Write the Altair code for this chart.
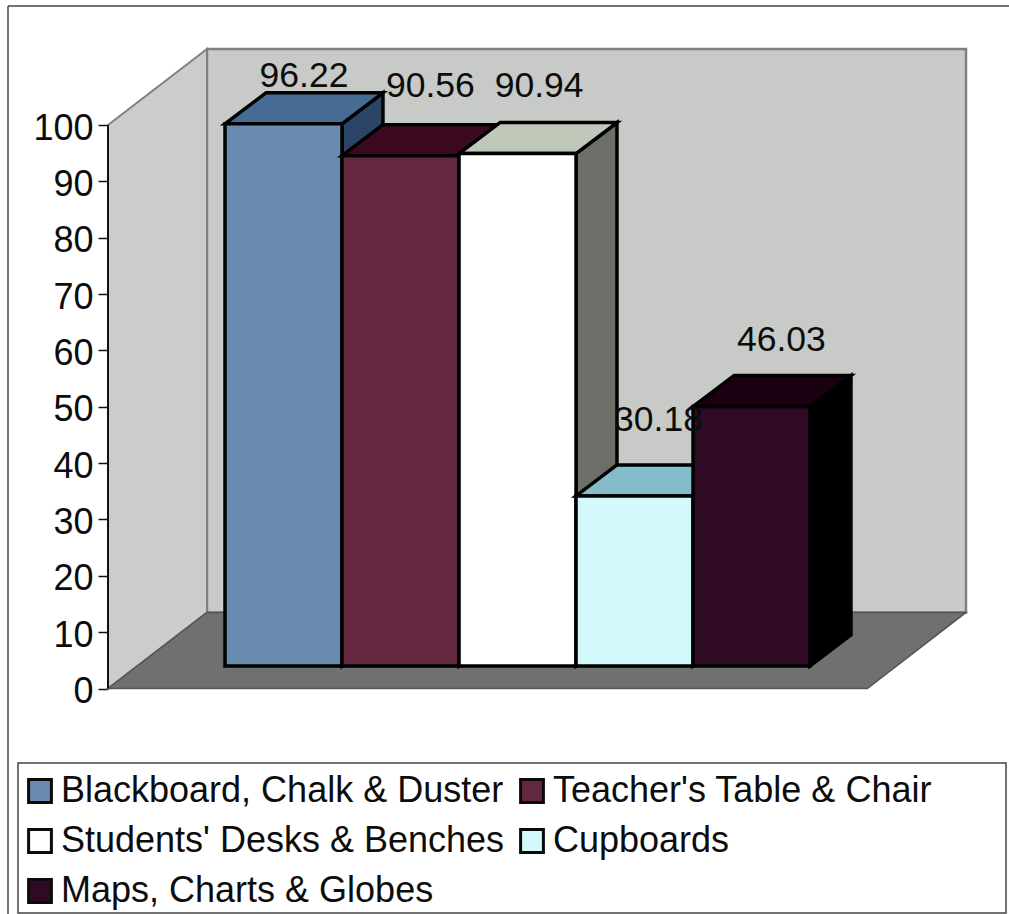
import altair as alt
import pandas as pd

# Furniture and teaching-aid availability, per cent of schools
categories = [
    "Blackboard, Chalk & Duster",
    "Teacher's Table & Chair",
    "Students' Desks & Benches",
    "Cupboards",
    "Maps, Charts & Globes",
]
values = [96.22, 90.56, 90.94, 30.18, 46.03]
tick_values = list(range(0, 101, 10))

front_colors = ["#6a8bb0", "#642840", "#ffffff", "#d2fafc", "#2e0a24"]
top_colors = ["#466b94", "#3c0a20", "#c0c8ba", "#84bccb", "#1a0010"]
side_colors = ["#2c4465", "#2c0818", "#6c6e68", "#5e8088", "#000000"]

# Oblique projection, in axis units: one x unit is one bar width
X_MAX = 7.333
Y_MAX = 113.5
WALL_DX = 0.846
WALL_DY = 13.5
FLOOR_W = 6.49
BAR_DX = 0.35
BAR_DY = 5.5
BAR_BASE = 4.0
BAR_START = 1.0

# Label displacement from the back edge of each bar's top (x units, y units)
label_nudge = [(0, 1.0), (0.08, 4.9), (0.01, 4.6), (0.03, 6.0), (0.08, 4.3)]

x_scale = alt.Scale(domain=[0, X_MAX], nice=False, zero=False)
y_scale = alt.Scale(domain=[0, Y_MAX], nice=False, zero=False)
y_axis = alt.Axis(
    values=tick_values, title=None, domain=False, grid=False,
    tickColor="#111111", tickSize=10, tickWidth=1.5, labelPadding=5, labelOffset=3,
    labelFont="Liberation Sans", labelFontSize=36, labelColor="#0c0c0c",
)


def X(field, **kw):
    return alt.X(field, type="quantitative", scale=x_scale, axis=None, **kw)


def Y(field, **kw):
    return alt.Y(field, type="quantitative", scale=y_scale, axis=y_axis, **kw)


def vertical_face(x0, x1, low0, high0, low1, high1, fill, stroke, width):
    # Parallelogram with upright ends
    df = pd.DataFrame({"x": [x0, x1], "lo": [low0, low1], "hi": [high0, high1]})
    return alt.Chart(df).mark_area(
        fill=fill, stroke=stroke, strokeWidth=width, strokeJoin="miter", opacity=1
    ).encode(x=X("x"), y=Y("hi"), y2=alt.Y2("lo"))


def level_face(y0, y1, left0, right0, left1, right1, fill, stroke, width):
    # Parallelogram with level ends
    df = pd.DataFrame({"y": [y0, y1], "l": [left0, left1], "r": [right0, right1]})
    return alt.Chart(df).mark_area(
        orient="horizontal", fill=fill, stroke=stroke, strokeWidth=width,
        strokeJoin="miter", opacity=1,
    ).encode(y=Y("y"), x=X("l"), x2=alt.X2("r"))


GRID = "#808080"
BAR_LINE = 3.5
layers = []

# Legend box sits underneath the legend itself
layers.append(
    alt.Chart(pd.DataFrame({"k": [0]})).mark_rect(
        fill="white", stroke="#444444", strokeWidth=1.5
    ).encode(x=alt.value(-90), x2=alt.value(898), y=alt.value(714), y2=alt.value(864))
)

# Back wall, side wall and floor
layers.append(vertical_face(WALL_DX, X_MAX, WALL_DY, Y_MAX, WALL_DY, Y_MAX, "#c8cac7", GRID, 2.5))
layers.append(vertical_face(0, WALL_DX, 0, 100, WALL_DY, Y_MAX, "#cbcdca", GRID, 2))
layers.append(level_face(0, WALL_DY, 0, FLOOR_W, WALL_DX, X_MAX, "#6e716e", "#555555", 1.5))

# Value axis line
layers.append(
    alt.Chart(pd.DataFrame({"a": [0], "b": [100]})).mark_rule(color="#111111", strokeWidth=2).encode(
        x=alt.value(0), y=Y("a"), y2=alt.Y2("b")
    )
)

legend = alt.Legend(
    title=None, orient="none", legendX=-86, legendY=724, direction="horizontal", columns=2,
    symbolType="square", symbolSize=520, symbolStrokeColor="#0a0a0a", symbolStrokeWidth=3,
    symbolOpacity=1, labelFont="Liberation Sans", labelFontSize=36, labelColor="#0c0c0c",
    labelLimit=600, labelOffset=3, rowPadding=14, columnPadding=9, padding=0,
)
color_scale = alt.Scale(domain=categories, range=front_colors)

# Bars, painted left to right so each one covers its neighbour's side
for i, (cat, val) in enumerate(zip(categories, values)):
    x0 = BAR_START + i
    x1 = x0 + 1
    y0 = BAR_BASE
    y1 = BAR_BASE + val
    layers.append(
        vertical_face(x1, x1 + BAR_DX, y0, y1, y0 + BAR_DY, y1 + BAR_DY, side_colors[i], "black", BAR_LINE)
    )
    layers.append(
        level_face(y1, y1 + BAR_DY, x0, x1, x0 + BAR_DX, x1 + BAR_DX, top_colors[i], "black", BAR_LINE)
    )
    front = pd.DataFrame({"category": [cat], "x0": [x0], "x1": [x1], "y0": [y0], "y1": [y1]})
    layers.append(
        alt.Chart(front).mark_rect(stroke="black", strokeWidth=BAR_LINE, opacity=1).encode(
            x=X("x0"), x2=alt.X2("x1"), y=Y("y0"), y2=alt.Y2("y1"),
            color=alt.Color("category:N", scale=color_scale, legend=legend),
        )
    )

# Value labels above the bars
label_df = pd.DataFrame(
    {
        "value": values,
        "text": [f"{v:.2f}" for v in values],
        "x": [BAR_START + i + 0.5 + BAR_DX / 2 + label_nudge[i][0] for i in range(5)],
        "y": [BAR_BASE + v + BAR_DY + label_nudge[i][1] for i, v in enumerate(values)],
    }
)
layers.append(
    alt.Chart(label_df).mark_text(
        font="Liberation Sans", fontSize=35.5, color="#0c0c0c", baseline="alphabetic", align="center"
    ).encode(x=X("x"), y=Y("y"), text="text:N")
)

# Chart frame
layers.append(
    alt.Chart(pd.DataFrame({"k": [0]})).mark_rule(color="#444444", strokeWidth=1.5).encode(
        x=alt.value(-100), y=alt.value(-43), y2=alt.value(865)
    )
)
layers.append(
    alt.Chart(pd.DataFrame({"k": [0]})).mark_rule(color="#444444", strokeWidth=1.5).encode(
        x=alt.value(-100), x2=alt.value(901), y=alt.value(-43)
    )
)

chart = (
    alt.layer(*layers)
    .properties(
        width=858,
        height=639.5,
        padding={"left": 108, "top": 49, "right": 43, "bottom": 225.5},
        autosize=alt.AutoSizeParams(type="none"),
        background="white",
    )
    .configure_view(strokeWidth=0)
)

chart.save("out.html", embed_options={"renderer": "svg", "actions": False})
